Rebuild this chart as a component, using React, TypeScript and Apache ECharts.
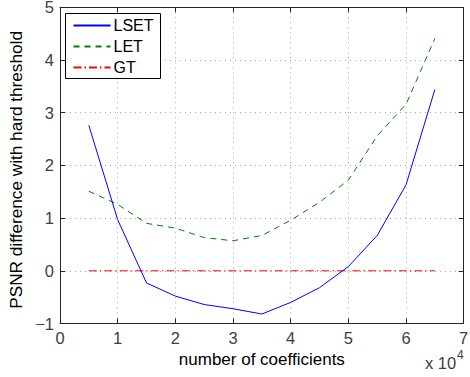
import React, { useEffect, useRef } from "react";
import * as echarts from "echarts";

const coefficients = [5000, 10000, 15000, 20000, 25000, 30000, 35000, 40000, 45000, 50000, 55000, 60000, 65000];
const lset = [2.76, 0.97, -0.23, -0.48, -0.64, -0.72, -0.82, -0.6, -0.32, 0.08, 0.67, 1.63, 3.44];
const letVals = [1.51, 1.26, 0.9, 0.81, 0.63, 0.57, 0.67, 0.96, 1.3, 1.72, 2.56, 3.16, 4.41];
const gt = [0, 0, 0, 0, 0, 0, 0, 0, 0, 0, 0, 0, 0];
const seriesNames = ["LSET", "LET", "GT"];

const FONT = "Liberation Sans, Arial, Helvetica, sans-serif";
const TICK_COLOR = "#404040";
const AXIS_COLOR = "#262626";
const COLORS = ["#0000ff", "#008000", "#ff0000"];
const DASHES: any[] = ["solid", [6, 5], [8, 3, 1.5, 3]];

export default function App() {
  const ref = useRef<HTMLDivElement>(null);
  useEffect(() => {
    document.body.style.margin = "0";
    const chart = echarts.init(ref.current!, null, { renderer: "svg" });
    const pair = (ys: number[]) => coefficients.map((x, i) => [x, ys[i]]);
    const gridLine = { show: true, lineStyle: { color: "#a8a8a8", type: [1, 4], width: 1 } };
    const values = [lset, letVals, gt];
    chart.setOption({
      animation: false,
      backgroundColor: "#ffffff",
      textStyle: { fontFamily: FONT },
      grid: { left: 60, right: 6.3, top: 7.3, bottom: 53.5, containLabel: false, outerBoundsMode: "none" },
      legend: {
        orient: "vertical",
        left: 65.5,
        top: 13.5,
        padding: [4, 7, 3, 7],
        itemWidth: 37,
        itemHeight: 16,
        itemGap: 5,
        backgroundColor: "#ffffff",
        borderColor: "#000000",
        borderWidth: 1,
        itemStyle: { opacity: 0 },
        textStyle: { fontFamily: FONT, fontSize: 16, color: "#000000", padding: [0, 0, 0, -2] },
        data: seriesNames,
      },
      xAxis: [
        {
          type: "value",
          min: 0,
          max: 70000,
          interval: 10000,
          name: "number of coefficients",
          nameLocation: "middle",
          nameGap: 22,
          nameTextStyle: { fontFamily: FONT, fontSize: 17, color: "#000000" },
          axisLine: { show: true, onZero: false, lineStyle: { color: AXIS_COLOR, width: 1 } },
          axisTick: { show: true, inside: true, length: 5, lineStyle: { color: AXIS_COLOR } },
          axisLabel: {
            fontFamily: FONT,
            fontSize: 16.5,
            color: TICK_COLOR,
            margin: 6,
            formatter: (v: number) => String(v / 10000),
          },
          splitLine: gridLine,
        },
        {
          type: "value",
          position: "top",
          min: 0,
          max: 70000,
          interval: 10000,
          axisLine: { show: true, onZero: false, lineStyle: { color: AXIS_COLOR, width: 1 } },
          axisTick: { show: true, inside: true, length: 5, lineStyle: { color: AXIS_COLOR } },
          axisLabel: { show: false },
          splitLine: { show: false },
        },
      ],
      yAxis: [
        {
          type: "value",
          min: -1,
          max: 5,
          interval: 1,
          name: "PSNR difference with hard threshold",
          nameLocation: "middle",
          nameGap: 29,
          nameTextStyle: { fontFamily: FONT, fontSize: 17.2, color: "#000000", padding: [0, 9, 0, 0] },
          axisLine: { show: true, onZero: false, lineStyle: { color: AXIS_COLOR, width: 1 } },
          axisTick: { show: true, inside: true, length: 5, lineStyle: { color: AXIS_COLOR } },
          axisLabel: {
            fontFamily: FONT,
            fontSize: 16.5,
            lineHeight: 14,
            color: TICK_COLOR,
            margin: 6,
            formatter: (v: number) => (v < 0 ? "\u2212" + Math.abs(v) : String(v)),
          },
          splitLine: gridLine,
        },
        {
          type: "value",
          position: "right",
          min: -1,
          max: 5,
          interval: 1,
          axisLine: { show: true, onZero: false, lineStyle: { color: AXIS_COLOR, width: 1 } },
          axisTick: { show: true, inside: true, length: 5, lineStyle: { color: AXIS_COLOR } },
          axisLabel: { show: false },
          splitLine: { show: false },
        },
      ],
      graphic: [
        {
          type: "text",
          left: 425,
          top: 354,
          style: { text: "x 10", fontFamily: FONT, fontSize: 16.5, fill: TICK_COLOR },
        },
        {
          type: "text",
          left: 457,
          top: 349,
          style: { text: "4", fontFamily: FONT, fontSize: 12, fill: TICK_COLOR },
        },
      ],
      series: seriesNames.map((name, i) => ({
        name,
        type: "line",
        data: pair(values[i]),
        symbol: "none",
        lineStyle: { color: COLORS[i], width: 1, type: DASHES[i] },
        itemStyle: { color: COLORS[i] },
        z: i === 0 ? 3 : 2,
      })),
    });
    return () => chart.dispose();
  }, []);
  return <div ref={ref} style={{ width: 470, height: 377 }} />;
}
